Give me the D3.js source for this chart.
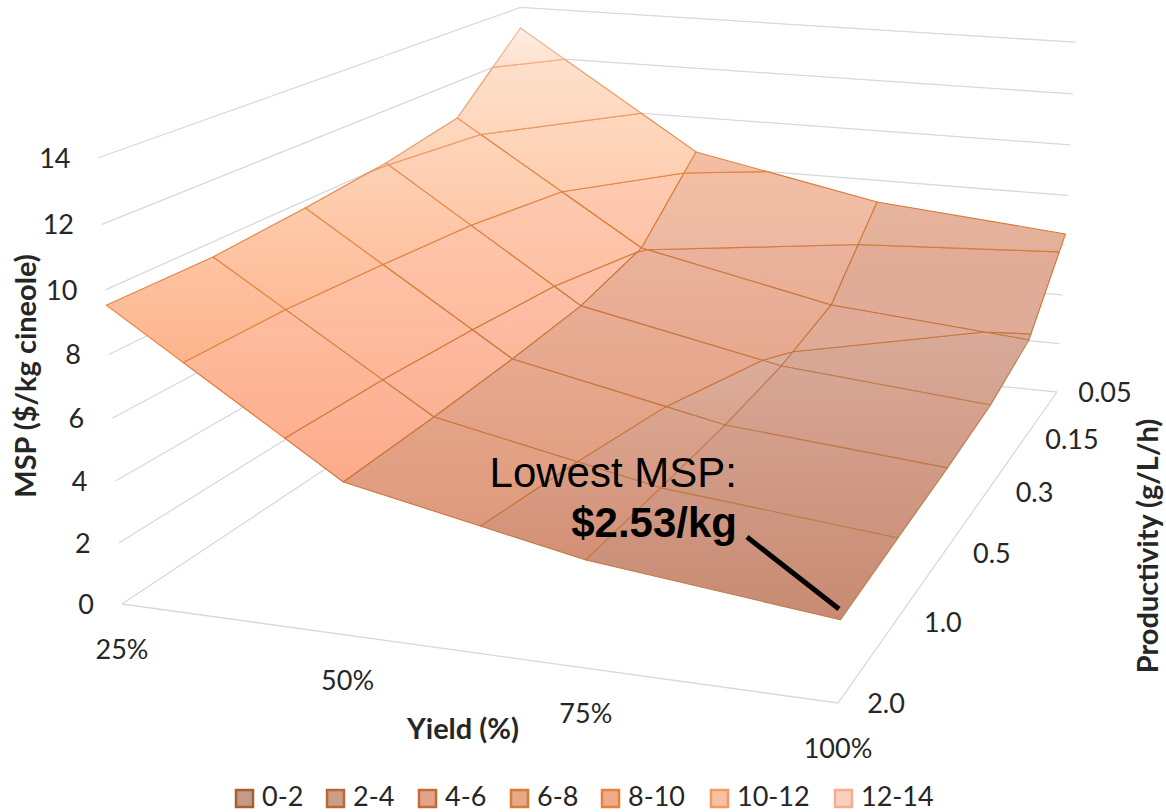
<!DOCTYPE html>
<html lang="en">
<head>
    <meta charset="UTF-8">
    <title>MSP surface</title>
    <script src="https://d3js.org/d3.v7.min.js"></script>
    <style>
        body { margin: 0; background: #fff; }
        svg { display: block; }
        text { font-family: Lato, "Open Sans", sans-serif; fill: #262626; }
        .note { font-family: "Liberation Sans", Arial, sans-serif; font-size: 42px; fill: #000; }
    </style>
</head>
<body>
    <svg></svg>

    <script>
        const yields = ['25%', '50%', '75%', '100%'];
        const productivities = ['0.05', '0.15', '0.3', '0.5', '1.0', '2.0'];
        const mspTicks = [0, 2, 4, 6, 8, 10, 12, 14];
        const bands = ['0-2', '2-4', '4-6', '6-8', '8-10', '10-12', '12-14'];

        // one list per yield, in productivity order
        const msp25 = [13.16, 10.58, 10.06, 9.75, 9.51, 9.53];
        const msp50 = [8.58, 6.05, 5.36, 5.11, 4.95, 4.85];
        const msp75 = [7.12, 4.49, 3.86, 3.58, 3.46, 3.36];
        const msp100 = [6.46, 3.86, 3.21, 2.94, 2.74, 2.53];
        const msp = [msp25, msp50, msp75, msp100];

        const width = 1166;
        const height = 812;

        const svg = d3.select('svg').attr('width', width).attr('height', height);
        const defs = svg.append('defs');

        const x_scale = d3.scalePoint().domain(yields).range([0, 1]);
        const y_scale = d3.scalePoint().domain(productivities).range([0, 1]);
        const z_scale = d3.scaleLinear().domain([0, 14]).range([0, 1]);

        // floor corners on screen + vertical column of the camera, fitted to the picture
        const back = [522.4, 338.04], right = [1057, 392], front = [838, 703], left = [122, 604];
        const up = [-20.66, -330.83, -0.0356];

        const dx1 = right[0] - front[0], dx2 = left[0] - front[0], sx = back[0] - right[0] + front[0] - left[0];
        const dy1 = right[1] - front[1], dy2 = left[1] - front[1], sy = back[1] - right[1] + front[1] - left[1];
        const den = dx1 * dy2 - dx2 * dy1;
        const g = (sx * dy2 - dx2 * sy) / den;
        const h = (dx1 * sy - sx * dy1) / den;
        const a = right[0] - back[0] + g * right[0], b = left[0] - back[0] + h * left[0];
        const d = right[1] - back[1] + g * right[1], e = left[1] - back[1] + h * left[1];

        function project(u, v, t) {
            const w = g * u + h * v + 1 + t * up[2];
            return [(a * u + b * v + back[0] + t * up[0]) / w, (d * u + e * v + back[1] + t * up[1]) / w];
        }

        const line = d3.line();

        // walls and floor
        const grid = svg.append('g').attr('fill', 'none').attr('stroke', '#d9d9d9').attr('stroke-width', 1.3);
        mspTicks.forEach(tick => {
            const t = z_scale(tick);
            grid.append('path').attr('d', line([project(0, 1, t), project(0, 0, t), project(1, 0, t)]));
        });
        grid.append('path').attr('d', line([project(0, 1, 0), project(1, 1, 0), project(1, 0, 0)]));

        // shades per yield interval and band: [top, bottom]
        const shades25to50 = [null, null, ['#fdc2ac', '#fcab8a'], ['#fecbb2', '#fdb08f'], ['#fed8bf', '#fdb48c'], ['#fee0cc', '#fed2b4'], ['#ffeee2', '#fee0cc']];
        const shades50to75 = [null, ['#dcae9b', '#d48f75'], ['#ebb39c', '#df9a7c'], ['#f2bfa6', '#ecb8a1'], ['#f4bfa5', '#f2bba2'], null, null];
        const shades75to100 = [null, ['#d9aa99', '#c88a72'], ['#e2ac97', '#dfab97'], ['#e6b49d', '#e3b09a'], null, null, null];
        const shades = [shades25to50, shades50to75, shades75to100];
        const bandLines = ['#a8683c', '#bf7a48', '#c8763a', '#d97a38', '#e5843f', '#eb9a63', '#efb08c'];
        const swatchFills = ['#c49a88', '#cf9c85', '#dfa58b', '#e5a888', '#f0ac88', '#f8c0a4', '#fad0bc'];
        const swatchLines = ['#a5622f', '#b8693a', '#c66c30', '#db7a37', '#e8803a', '#f09a68', '#f2ad92'];

        // cut a cell down to the part between two msp levels
        function clip(poly, keep, level) {
            const out = [];
            poly.forEach((p, k) => {
                const q = poly[(k + 1) % poly.length];
                if (keep(p[2])) out.push(p);
                if (keep(p[2]) !== keep(q[2])) {
                    const f = (level - p[2]) / (q[2] - p[2]);
                    out.push([p[0] + f * (q[0] - p[0]), p[1] + f * (q[1] - p[1]), level]);
                }
            });
            return out;
        }

        const patches = [];
        d3.range(productivities.length - 1).forEach(j => {
            d3.range(yields.length - 1).forEach(i => {
                const corner = (m, n) => [x_scale(yields[m]), y_scale(productivities[n]), msp[m][n]];
                const cell = [corner(i, j), corner(i + 1, j), corner(i + 1, j + 1), corner(i, j + 1)];
                bands.forEach((band, k) => {
                    const lo = k * 2, hi = lo + 2;
                    let poly = clip(cell, z => z >= lo, lo);
                    if (poly.length) poly = clip(poly, z => z <= hi, hi);
                    if (poly.length > 2) {
                        patches.push({column: i, band: k, points: poly.map(p => project(p[0], p[1], z_scale(p[2])))});
                    }
                });
            });
        });

        // gradient runs over the height of a band inside its column
        d3.groups(patches, p => p.column, p => p.band).forEach(([column, byBand]) => {
            byBand.forEach(([band, list]) => {
                const ys = list.flatMap(p => p.points.map(q => q[1]));
                const colors = shades[column][band] || [swatchFills[band], swatchFills[band]];
                const grad = defs.append('linearGradient').attr('id', `s${column}-${band}`)
                    .attr('gradientUnits', 'userSpaceOnUse')
                    .attr('x1', 0).attr('x2', 0).attr('y1', d3.min(ys)).attr('y2', d3.max(ys));
                grad.append('stop').attr('offset', 0).attr('stop-color', colors[0]);
                grad.append('stop').attr('offset', 1).attr('stop-color', colors[1]);
            });
        });

        svg.append('g')
            .selectAll('path')
            .data(patches)
            .join('path')
            .attr('d', p => line(p.points) + 'Z')
            .attr('fill', p => `url(#s${p.column}-${p.band})`)
            .attr('stroke', p => bandLines[p.band])
            .attr('stroke-width', 1.1)
            .attr('stroke-linejoin', 'round');

        // axis labels
        svg.append('g').attr('font-size', 27).attr('text-anchor', 'end')
            .selectAll('text').data(mspTicks).join('text')
            .attr('x', t => project(0, 1, z_scale(t))[0] - 28)
            .attr('y', t => project(0, 1, z_scale(t))[1] + 10)
            .text(t => t);

        svg.append('g').attr('font-size', 27).attr('text-anchor', 'middle')
            .selectAll('text').data(yields).join('text')
            .attr('x', y => project(x_scale(y), 1, 0)[0])
            .attr('y', y => project(x_scale(y), 1, 0)[1] + 55)
            .text(y => y);

        svg.append('g').attr('font-size', 27).attr('text-anchor', 'middle')
            .selectAll('text').data(productivities).join('text')
            .attr('x', p => project(1, y_scale(p), 0)[0] + 48)
            .attr('y', p => project(1, y_scale(p), 0)[1] + 10)
            .text(p => p);

        svg.append('text').attr('x', 463).attr('y', 739).attr('text-anchor', 'middle')
            .attr('font-size', 29).attr('font-weight', 700).text('Yield (%)');
        svg.append('text').attr('transform', 'translate(36,376) rotate(-90)').attr('text-anchor', 'middle')
            .attr('font-size', 29).attr('font-weight', 700).text('MSP ($/kg cineole)');
        svg.append('text').attr('transform', 'translate(1158,546) rotate(-90)').attr('text-anchor', 'middle')
            .attr('font-size', 29).attr('font-weight', 700).text('Productivity (g/L/h)');

        // annotation
        svg.append('text').attr('class', 'note').attr('x', 737).attr('y', 487).attr('text-anchor', 'end').text('Lowest MSP:');
        svg.append('text').attr('class', 'note').attr('x', 737).attr('y', 537).attr('text-anchor', 'end')
            .attr('font-weight', 700).text('$2.53/kg');
        svg.append('path').attr('d', line([[747, 537], [839, 609]])).attr('stroke', '#000').attr('stroke-width', 5);

        // legend
        const legendX = [236, 327, 419, 511, 602, 711, 835];
        const legend = svg.append('g').selectAll('g').data(bands).join('g')
            .attr('transform', (band, k) => `translate(${legendX[k]},790)`);
        legend.append('rect').attr('width', 17).attr('height', 17)
            .attr('fill', (band, k) => swatchFills[k])
            .attr('stroke', (band, k) => swatchLines[k]).attr('stroke-width', 2.5);
        legend.append('text').attr('x', 26).attr('y', 16).attr('font-size', 27).text(band => band);
    </script>
</body>
</html>
